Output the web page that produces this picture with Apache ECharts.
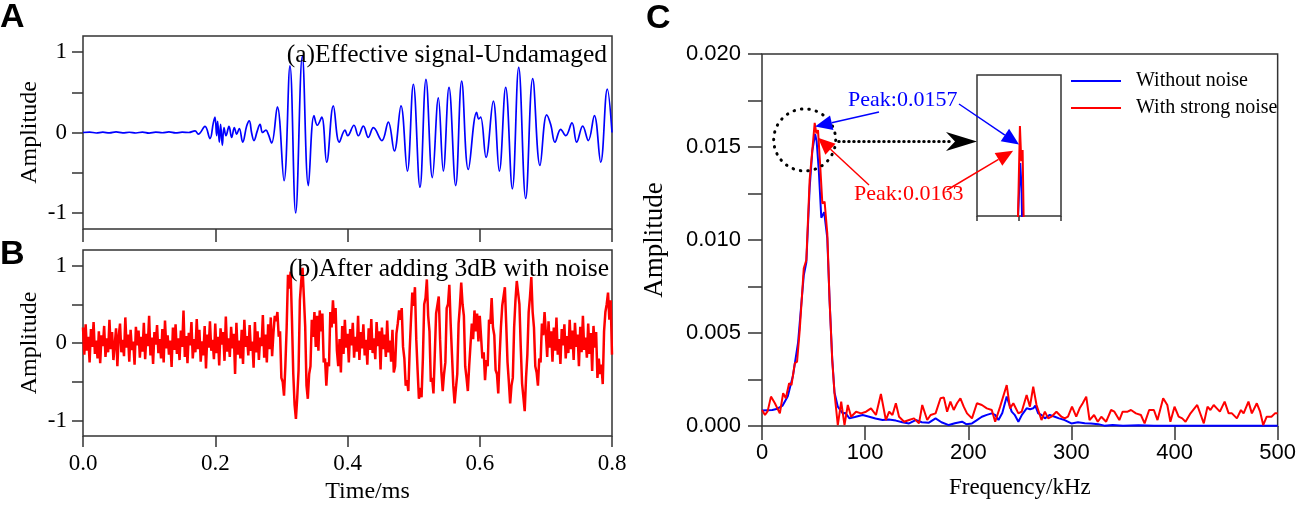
<!DOCTYPE html>
<html lang="en">
<head>
<meta charset="UTF-8">
<title>Signal with and without noise</title>
<script src="https://cdn.jsdelivr.net/npm/echarts@6/dist/echarts.min.js"></script>
<style>html,body{margin:0;background:#fff}</style>
</head>
<body>
<div id="dv" style="width:1299px;height:505px;"></div>
<script>
// (a) clean signal, extrema (time in ms)
var timeA = [0, 0.01, 0.02, 0.03, 0.04, 0.05, 0.06, 0.07, 0.08, 0.09, 0.10, 0.11, 0.12, 0.13, 0.14, 0.15, 0.16,
  0.1694, 0.1744, 0.1845, 0.192, 0.1971, 0.1996, 0.2021, 0.2036, 0.2061, 0.2081, 0.2107, 0.2132, 0.2162, 0.2208,
  0.2248, 0.2289, 0.2324, 0.2364, 0.2415, 0.2475, 0.2515, 0.2551, 0.2586, 0.2636, 0.2677, 0.2717, 0.2767, 0.2802,
  0.2853, 0.2939, 0.304, 0.313, 0.3216, 0.3317, 0.3408, 0.3493, 0.3544, 0.361, 0.3685, 0.3786, 0.3876, 0.3962,
  0.4003, 0.4098, 0.4164, 0.424, 0.4315, 0.4391, 0.452, 0.4617, 0.4708, 0.4809, 0.4905, 0.4996, 0.5096, 0.5187,
  0.5283, 0.5374, 0.5449, 0.5535, 0.5636, 0.5727, 0.5827, 0.5953, 0.5985, 0.6014, 0.6095, 0.6205, 0.6296, 0.6392,
  0.6493, 0.6589, 0.6695, 0.6801, 0.6911, 0.7012, 0.7073, 0.7138, 0.7224, 0.73, 0.7395, 0.7466, 0.7557, 0.7642,
  0.7733, 0.7829, 0.7929, 0.8]
var ampA = [0, 0.005, -0.006, 0.004, -0.005, 0.007, -0.004, 0.003, -0.006, 0.005, -0.007, 0.004, -0.003, 0.008, -0.005, 0.004, 0,
  0.02, -0.02, 0.075, -0.075, 0.12, 0.19, -0.04, 0.14, -0.12, 0.1, -0.16, 0.06, -0.04, 0.075,
  -0.06, 0.06, -0.02, 0.05, -0.12, 0.08, 0.145, -0.01, -0.1, 0.02, 0.1, 0, 0.03, -0.02,
  -0.13, 0.32, -0.6, 0.83, -1.0, 0.95, -0.66, 0.21, 0.09, 0.19, -0.37, 0.33, -0.12, 0.03,
  -0.04, 0.09, -0.04, 0.08, -0.06, 0.06, -0.1, 0.13, -0.23, 0.33, -0.48, 0.6, -0.68, 0.66,
  -0.56, 0.43, -0.48, 0.56, -0.66, 0.64, -0.46, 0.25, 0.17, 0.19, -0.31, 0.39, -0.48, 0.56,
  -0.7, 0.81, -0.82, 0.67, -0.41, 0.22, 0.1, -0.12, 0.04, -0.04, 0.12, -0.12, 0.08, -0.1,
  0.21, -0.37, 0.54, 0]

// (b) noisy signal, one sample every 0.002 ms, amplitude x100
var stepB = 0.002
var ampB = [
  20, -15, 24, -10, 8, -25, 18, -5, 27, -14, 3, -20, 15, -26, 10, -4, 22, -18, 6, -12,
  30, -8, 14, -22, -2, 19, -30, 9, 25, -12, 4, -17, 33, -6, 11, -24, 17, -9, 2, -28,
  21, -3, 16, -19, 8, -11, 26, -21, 12, -4, 35, -16, 7, -27, 14, -2, 23, -13, 5, -20,
  18, -25, 29, -7, 10, -15, 3, -31, 20, -9, 24, -14, 6, -22, 16, -5, 42, -18, 9, -26,
  13, -3, 27, -20, 5, -12, 31, -8, 17, -24, 2, -16, 22, -33, 11, -6, 28, -10, 4, -21,
  25, -13, 8, -29, 19, -2, 14, -23, 34, -11, 6, -18, 21, -7, 12, -40, 26, -15, 3, -20,
  17, -27, 30, -5, 9, -16, 23, -10, 2, -32, 27, -12, 15, -22, 7, -4, 36, -19, 11, -25,
  24, -8, 33, -17, 13,
  35, 28, 40, 8, 15, -45, -50, -68, -30, 20, 88, 70, 92, 30, -40, -80, -98, -70, -35, 55,
  80, 97, 60, 22, -55, -72, -40, -30, 30, 8, 40, -5, 35, -10, 42, 15, 38, -25, -20, -55,
  -25, -30, 40, 20, 55, 25, 45, -10, -30, 5, -38,
  22, -14, 30, -6, 12, -25, 18, -3, 26, -19, 8, -11, 35, -22, 14, -7, 24, -16, 4, -28,
  19, -9, 31, -13, 6, -21, 27, -4, 15, -34, 20, -8, 11, -18, 29, -12, 3, -24, 17, -38,
  -30, 12, 25, 42, 30, 45, -5, -20, -55, -48, -62, -10, 30, 65, 48, 72, 5, -35, -72, -58,
  -70, -20, 50, 58, 82, 35, 15, -50, -45, -65, -15, 38, 40, 60, 5, -38, -62, -40, -25, 45,
  50, 75, 25, -15, -55, -78, -58, -40, 25, 48, 78, 50, 35, -30, -45, -62, -30, -28, 25, 5,
  42, 15, 38, 2, 35, 8, -20, -12, -48, -22, -30, 30, 25, 58, 20, 10, -35, -40, -65, -18,
  20, 48, 50, 72, 25, -25, -50, -78, -55, -45, 20, 55, 80, 65, 50, -5, -52, -70, -88, -45,
  -15, 40, 60, 85, 40, 20, -30, -38, -55, -20, -25, 25, 10, 40,
  12, -18, 28, -6, 15, -24, 20, -10, 33, -15, 5, -27, 18, -3, 24, -20, 9, -13, 30, -8,
  16, -22, 26, -5, 11, -30, 21, -12, 35, -9, 7, -19, 25, -14, 13, -36, 22, -6, 14, -45,
  -20, -40, -28, -53, 15, 40, 50, 65, 30, 55, -15]

// (c) spectra, frequency in kHz
var freqBlue = [0, 5, 10, 15, 20, 25, 30, 35, 38.5, 40.5, 43, 46.2, 48.8, 51.5, 53, 55, 57.5, 60.3, 63.3, 65.5,
  68.1, 70.3, 73.5, 78.3, 81, 84.8, 90, 97.6, 104, 110, 116.9, 123, 129.8, 136, 142.6, 149, 155, 161.9, 168.3, 174,
  181.1, 187, 194, 198, 203.6, 208, 213.2, 218, 222.8, 226, 229.3, 233, 237.3, 242.1, 245, 248.6, 252, 256.6, 260, 263,
  265, 267.8, 271, 274.3, 279, 283.9, 288, 293.5, 300, 306.4, 313, 319, 326, 332, 340, 350, 365, 380, 400, 450, 500]
var ampBlue = [0.00083, 0.00085, 0.00086, 0.00093, 0.0011, 0.0016, 0.0027, 0.0045, 0.0068, 0.0081, 0.0088, 0.0128, 0.0148, 0.0157, 0.0153, 0.0138, 0.0112, 0.0115, 0.0101, 0.0068,
  0.0036, 0.0018, 0.00104, 0.00068, 0.0007, 0.00041, 0.00048, 0.00059, 0.0005, 0.0004, 0.00032, 0.00035, 0.00029, 0.0002, 0.00014, 0.00032, 0.0002, 0.00018, 0.00041, 0.0002,
  0.00005, 0.00015, 0.00023, 0.0001, 0.00014, 0.0003, 0.0005, 0.0006, 0.00068, 0.0006, 0.00032, 0.0007, 0.00158, 0.00077, 0.0006, 0.00023, 0.0006, 0.00095, 0.0009, 0.00095,
  0.0011, 0.00068, 0.0006, 0.00041, 0.0006, 0.0005, 0.00041, 0.00032, 0.00014, 0.0002, 0.00015, 0.00014, 0.0001, 0.00002, 0.00005, 0.00002, 0.00004, 0.00002, 0.00002, 0.00001, 0.00002]
var freqRed = [0, 2.9, 5.5, 8.7, 12.5, 17.3, 20.5, 23.1, 26.3, 28.6, 31.8, 34, 36.6, 40.5, 43, 46.2, 48.8, 51.1, 52.7, 54.3,
  56.5, 58.5, 60.7, 63.3, 65.5, 68.1, 70.3, 73.5, 76.8, 80, 83.2, 86.4, 91.2, 96, 100.9, 105.7, 110.5, 115.3, 120.1, 123.3,
  126.5, 129.8, 132.9, 137.8, 142.6, 147.4, 152.2, 155.4, 160.2, 163.5, 168.3, 173.1, 176.3, 179.5, 182.7, 185.9, 189.1, 192.4, 195.6, 198.8,
  203.6, 208.4, 213.2, 218, 222.8, 226.1, 230.9, 237.3, 240.5, 243.7, 248.6, 251.8, 256.6, 259.8, 263, 266.2, 271, 274.3, 277.5, 280.7,
  285.5, 290.3, 293.5, 296.7, 300.6, 304.7, 308, 311, 314.4, 317.6, 322, 325.6, 329, 333.7, 338.5, 341.7, 346.5, 349.7, 354.5, 357.8,
  362.6, 367.4, 371, 375.4, 380, 383.5, 389, 393, 396, 400, 404, 407.5, 410.7, 415.5, 422, 428.4, 432, 434.8, 438, 441,
  444, 448.6, 452.5, 455.7, 460.5, 464.4, 467, 471.7, 475, 479.8, 483, 486, 489.4, 494, 497.4, 500]
var ampRed = [0.00086, 0.00059, 0.0008, 0.00158, 0.00122, 0.00068, 0.00176, 0.00149, 0.0023, 0.0022, 0.00337, 0.00346, 0.00516, 0.00848, 0.00892, 0.01323, 0.01484, 0.0163, 0.01573, 0.01591,
  0.01394, 0.01197, 0.01206, 0.01036, 0.00677, 0.00355, 0.00176, 0.00005, 0.00131, 0.00005, 0.00113, 0.0005, 0.00077, 0.00068, 0.00077, 0.00095, 0.00059, 0.00172, 0.00032, 0.00077,
  0.00059, 0.00122, 0.0005, 0.00023, 0.00032, 0.00041, 0.00014, 0.00113, 0.00032, 0.00059, 0.00068, 0.00149, 0.00154, 0.00077, 0.00131, 0.00086, 0.00122, 0.00149, 0.00104, 0.00068,
  0.00041, 0.00122, 0.00113, 0.00095, 0.00086, 0.00023, 0.00104, 0.0022, 0.00095, 0.00122, 0.00068, 0.00077, 0.00167, 0.00104, 0.00211, 0.00113, 0.00032, 0.00077, 0.00041, 0.0005,
  0.00077, 0.0005, 0.00041, 0.0005, 0.00104, 0.0005, 0.00095, 0.00122, 0.00158, 0.00032, 0.00059, 0.00023, 0.0005, 0.00023, 0.00086, 0.00077, 0.00032, 0.00077, 0.00077, 0.00086,
  0.00068, 0.00059, 0.00014, 0.00086, 0.00086, 0.00032, 0.00149, 0.00113, 0.00023, 0.00104, 0.0005, 0.00041, 0.00023, 0.00068, 0.00113, 0.00014, 0.00104, 0.00086, 0.00113, 0.00095,
  0.00077, 0.00131, 0.00068, 0.00068, 0.00041, 0.00086, 0.00068, 0.00131, 0.00068, 0.00122, 0.00077, 0.00005, 0.0005, 0.0005, 0.00068, 0.00068]

var ampTicks = [-1, -0.5, 0, 0.5, 1]
var ampLabels = [-1, 0, 1]
var specTicks = [0, 0.0025, 0.005, 0.0075, 0.01, 0.0125, 0.015, 0.0175, 0.02]
var peakBlue = 0.0157
var peakRed = 0.0163

var serif = '"Liberation Serif", "Times New Roman", serif'
var sans = '"Liberation Sans", Arial, sans-serif'
var dark = '#333'

var dataA = timeA.map(function (t, i) { return [t, ampA[i]] })
var dataB = ampB.map(function (v, i) { return [i * stepB, v / 100] })
var dataBlue = freqBlue.map(function (f, i) { return [f, ampBlue[i]] })
var dataRed = freqRed.map(function (f, i) { return [f, ampRed[i]] })

function tick(len) {
  return { length: len, lineStyle: { color: dark, width: 1.5 } }
}
var noLine = { show: false, onZero: false }

var chart = echarts.init(document.getElementById('dv'))
var option = {
  animation: false,
  grid: [
    { left: 83, top: 36, width: 529, height: 193, show: true, borderColor: dark, borderWidth: 1.5 },
    { left: 83, top: 250, width: 529, height: 190, show: true, borderColor: dark, borderWidth: 1.5 },
    { left: 762, top: 54, width: 519, height: 372, show: true, borderColor: dark, borderWidth: 1.5 },
    { left: 977, top: 75, width: 84, height: 141, show: true, borderColor: dark, borderWidth: 1.5 }
  ],
  legend: {
    data: ['Without noise', 'With strong noise'],
    orient: 'vertical', left: 1066, top: 66,
    icon: 'rect', itemWidth: 50, itemHeight: 2, itemGap: 7,
    textStyle: { fontFamily: serif, fontSize: 20, color: '#000', padding: [0, 0, 0, 10] }
  },
  xAxis: [
    { gridIndex: 0, type: 'value', min: 0, max: 0.8, interval: 0.2,
      axisLine: noLine, splitLine: { show: false }, axisTick: tick(13), axisLabel: { show: false } },
    { gridIndex: 1, type: 'value', min: 0, max: 0.8, interval: 0.2,
      axisLine: noLine, splitLine: { show: false }, axisTick: tick(11),
      axisLabel: { fontFamily: serif, fontSize: 23, color: '#000', margin: 16, formatter: function (v) { return v.toFixed(1) } },
      name: 'Time/ms', nameLocation: 'middle', nameGap: 44,
      nameTextStyle: { fontFamily: serif, fontSize: 24, color: '#000', padding: [0, 0, 0, 40] } },
    { gridIndex: 2, type: 'value', min: 0, max: 500, interval: 100,
      axisLine: noLine, splitLine: { show: false }, axisTick: tick(14),
      axisLabel: { fontFamily: sans, fontSize: 22, color: '#000', margin: 16 },
      name: 'Frequency/kHz', nameLocation: 'middle', nameGap: 50,
      nameTextStyle: { fontFamily: serif, fontSize: 23, color: '#000' } },
    { gridIndex: 3, type: 'value', min: 0, max: 100, interval: 50,
      axisLine: noLine, splitLine: { show: false }, axisTick: tick(5), axisLabel: { show: false } }
  ],
  yAxis: [
    { gridIndex: 0, type: 'value', min: -1.2, max: 1.2,
      axisLine: noLine, splitLine: { show: false },
      axisTick: { length: 11, customValues: ampTicks, lineStyle: { color: dark, width: 1.5 } },
      axisLabel: { customValues: ampLabels, fontFamily: serif, fontSize: 23, color: '#000', margin: 16 },
      name: 'Amplitude', nameLocation: 'middle', nameGap: 41,
      nameTextStyle: { fontFamily: serif, fontSize: 24, color: '#000' } },
    { gridIndex: 1, type: 'value', min: -1.2, max: 1.2,
      axisLine: noLine, splitLine: { show: false },
      axisTick: { length: 11, customValues: ampTicks, lineStyle: { color: dark, width: 1.5 } },
      axisLabel: { customValues: ampLabels, fontFamily: serif, fontSize: 23, color: '#000', margin: 16 },
      name: 'Amplitude', nameLocation: 'middle', nameGap: 41,
      nameTextStyle: { fontFamily: serif, fontSize: 24, color: '#000' } },
    { gridIndex: 2, type: 'value', min: 0, max: 0.02, interval: 0.005,
      axisLine: noLine, splitLine: { show: false },
      axisTick: { length: 14, customValues: specTicks, lineStyle: { color: dark, width: 1.5 } },
      axisLabel: { fontFamily: sans, fontSize: 22, color: '#000', margin: 21, formatter: function (v) { return v.toFixed(3) } },
      name: 'Amplitude', nameLocation: 'middle', nameGap: 94,
      nameTextStyle: { fontFamily: serif, fontSize: 27, color: '#000' } },
    { gridIndex: 3, type: 'value', min: 0.01484, max: 0.01713, show: false }
  ],
  series: [
    { name: 'Effective signal', type: 'line', xAxisIndex: 0, yAxisIndex: 0, data: dataA, symbol: 'none',
      smooth: 0.4, lineStyle: { color: '#0000ff', width: 1.7 } },
    { name: 'Noisy signal', type: 'line', xAxisIndex: 1, yAxisIndex: 1, data: dataB, symbol: 'none',
      lineStyle: { color: '#ff0000', width: 2.5 } },
    { name: 'Without noise', type: 'line', xAxisIndex: 2, yAxisIndex: 2, data: dataBlue, symbol: 'none',
      color: '#0000ff', lineStyle: { color: '#0000ff', width: 2 } },
    { name: 'With strong noise', type: 'line', xAxisIndex: 2, yAxisIndex: 2, data: dataRed, symbol: 'none',
      color: '#ff0000', lineStyle: { color: '#ff0000', width: 2 } },
    { name: 'inset blue', type: 'line', xAxisIndex: 3, yAxisIndex: 3, data: dataBlue, symbol: 'none', clip: true,
      lineStyle: { color: '#0000ff', width: 2 } },
    { name: 'inset red', type: 'line', xAxisIndex: 3, yAxisIndex: 3, data: dataRed, symbol: 'none', clip: true,
      lineStyle: { color: '#ff0000', width: 2 } }
  ]
}
chart.setOption(option)

// annotations
var g = []
function label(txt, x, y, font, color, align) {
  g.push({ type: 'text', z: 100, x: x, y: y,
    style: { text: txt, font: font, fill: color, textAlign: align || 'left', textVerticalAlign: 'middle' } })
}
function arrow(x1, y1, x2, y2, color) {
  var dx = x2 - x1, dy = y2 - y1, d = Math.sqrt(dx * dx + dy * dy)
  var ux = dx / d, uy = dy / d, len = 17, w = 7.5
  var bx = x2 - ux * len, by = y2 - uy * len
  g.push({ type: 'line', z: 100, shape: { x1: x1, y1: y1, x2: bx, y2: by }, style: { stroke: color, lineWidth: 1.5 } })
  g.push({ type: 'polygon', z: 100, shape: { points: [[x2, y2], [bx - uy * w, by + ux * w], [bx + uy * w, by - ux * w]] },
    style: { fill: color } })
}
label('A', 0, 18, 'bold 34px ' + sans, '#000')
label('B', 0, 255, 'bold 34px ' + sans, '#000')
label('C', 646, 19, 'bold 34px ' + sans, '#000')
label('(a)Effective signal-Undamaged', 607, 55, '25.5px ' + serif, '#000', 'right')
label('(b)After adding 3dB with noise', 609, 269, '25.5px ' + serif, '#000', 'right')

var pB = chart.convertToPixel({ gridIndex: 2 }, [51.5, peakBlue + 0.0004])
var pR = chart.convertToPixel({ gridIndex: 2 }, [54.3, peakRed - 0.0008])
var iB = chart.convertToPixel({ gridIndex: 3 }, [50, 0.016])
var iR = chart.convertToPixel({ gridIndex: 3 }, [43, 0.0159])
var ring = chart.convertToPixel({ gridIndex: 2 }, [41.4, 0.01538])

g.push({ type: 'circle', z: 100, shape: { cx: ring[0], cy: ring[1], r: 31 },
  style: { fill: 'none', stroke: '#000', lineWidth: 3, lineDash: [0.5, 7], lineCap: 'round' } })
g.push({ type: 'line', z: 100, shape: { x1: ring[0] + 34, y1: 141.5, x2: 950, y2: 141.5 },
  style: { stroke: '#000', lineWidth: 3, lineDash: [0.5, 4.5], lineCap: 'round' } })
g.push({ type: 'polygon', z: 100, shape: { points: [[977, 141.5], [946, 132], [955, 141.5], [946, 151]] },
  style: { fill: '#000' } })

label('Peak:' + peakBlue, 848, 100, '22px ' + serif, '#0000ff')
label('Peak:' + peakRed, 854, 194, '22px ' + serif, '#ff0000')
arrow(879, 112, pB[0], pB[1], '#0000ff')
arrow(959, 104, iB[0], iB[1], '#0000ff')
arrow(869, 185, pR[0], pR[1], '#ff0000')
arrow(947, 190, iR[0], iR[1], '#ff0000')

chart.setOption({ graphic: { elements: g } })
</script>
</body>
</html>
